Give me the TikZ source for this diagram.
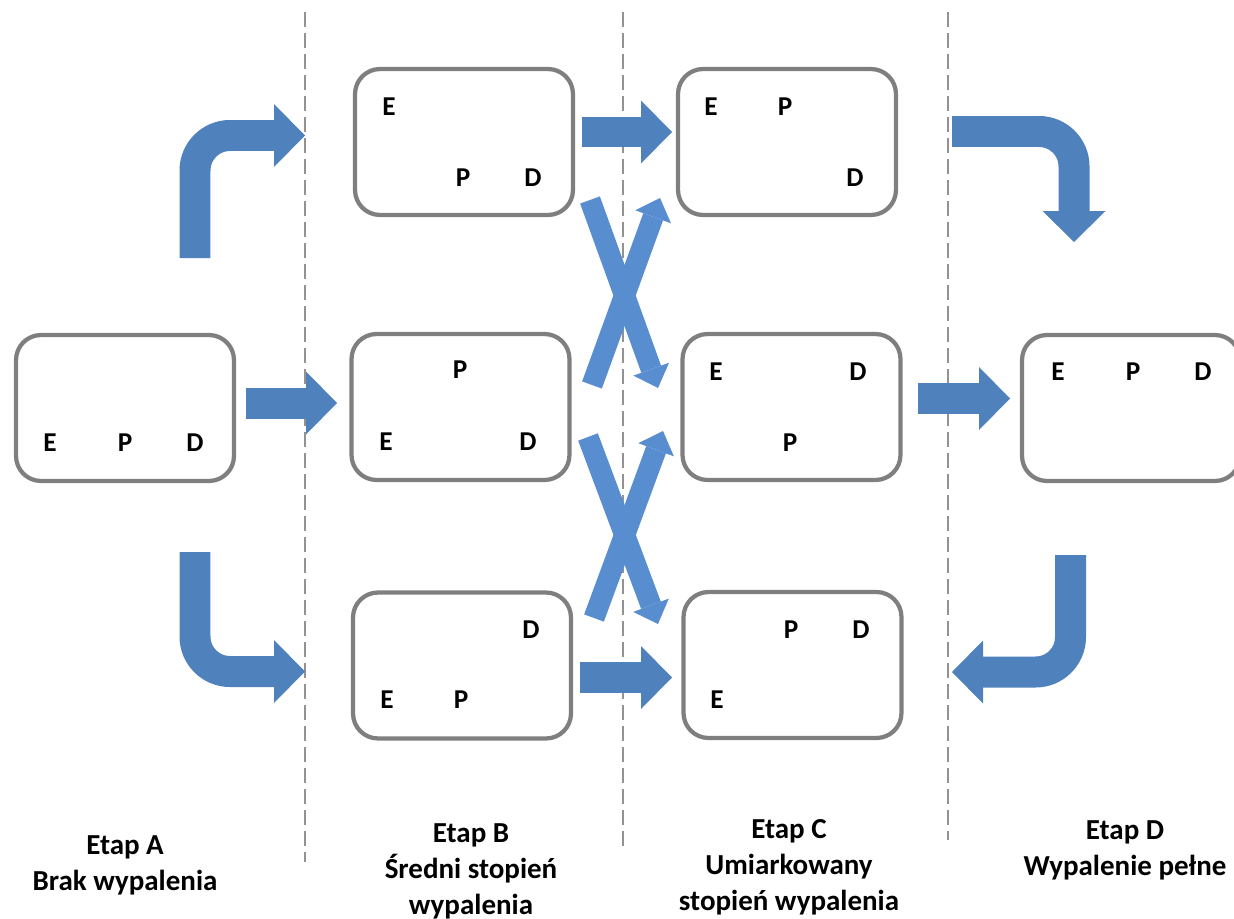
\documentclass[tikz,border=0pt]{standalone}
\usepackage{fontspec}
\setmainfont{Carlito}
\usetikzlibrary{arrows.meta}

\definecolor{niebieski}{RGB}{79,129,189}
\definecolor{jasnyniebieski}{RGB}{88,141,208}
\definecolor{szary}{RGB}{127,127,127}

\begin{document}
\begin{tikzpicture}[x=0.02cm, y=-0.02cm,
    pole/.style={draw=szary, line width=0.085cm, rounded corners=0.5cm,
        minimum width=4.36cm, minimum height=2.92cm},
    litera/.style={font=\fontsize{15.5}{18}\selectfont\bfseries, inner sep=0pt},
    etap/.style={font=\fontsize{16.5}{20.5}\selectfont\bfseries, align=center, inner sep=0pt},
    blok/.style={draw=niebieski, line width=0.62cm,
        -{Triangle[width=1.26cm, length=0.62cm, line width=0pt]}},
    krzyz/.style={draw=jasnyniebieski, line width=0.42cm,
        -{Triangle[width=0.76cm, length=0.4cm, line width=0pt]}},
    granica/.style={draw=szary!85, line width=0.04cm, dash pattern=on 0.3cm off 0.12cm}]

    \useasboundingbox (0,0) rectangle (1234,919);

    % Linie podziału etapów
    \draw[granica] (305,12) -- (305,862);
    \draw[granica] (623,12) -- (623,850);
    \draw[granica] (948,12) -- (948,840);

    % Pola
    \node[pole] (A)  at (125,408) {};
    \node[pole] (B1) at (464,142) {};
    \node[pole] (B2) at (460.5,407) {};
    \node[pole] (B3) at (462,665.5) {};
    \node[pole] (C1) at (787,142) {};
    \node[pole] (C2) at (791.5,407) {};
    \node[pole] (C3) at (792.5,665) {};
    \node[pole] (D)  at (1131,408) {};

    % Litery E, P, D w polach
    \foreach \n/\x/\y/\t in {A-E/50/443/E, A-P/125/443/P, A-D/195/443/D,
            B1-E/389/107/E, B1-P/463/178/P, B1-D/533/178/D,
            B2-P/460/370/P, B2-E/386/442/E, B2-D/528/442/D,
            B3-D/531/630/D, B3-E/387/700/E, B3-P/461/700/P,
            C1-E/711/107/E, C1-P/785/107/P, C1-D/855/178/D,
            C2-E/716/372/E, C2-D/858/372/D, C2-P/790/443/P,
            C3-P/791/630/P, C3-D/861/630/D, C3-E/717/700/E,
            D-E/1058/372/E, D-P/1133/372/P, D-D/1203/372/D}
        \node[litera] (\n) at (\x,\y) {\t};

    % Końce strzałek
    \coordinate (ab-s) at (246,403);    \coordinate (ab-k) at (337,403);
    \coordinate (bc1-s) at (582,132);   \coordinate (bc1-k) at (672,132);
    \coordinate (bc3-s) at (580,677.5); \coordinate (bc3-k) at (672,677.5);
    \coordinate (cd-s) at (918,398.5);  \coordinate (cd-k) at (1010,398.5);
    \coordinate (ag-s) at (195,258);    \coordinate (ag-k) at (305,135.5);
    \coordinate (ad-s) at (195,552);    \coordinate (ad-k) at (305,671.5);
    \coordinate (dg-s) at (952,131.5);  \coordinate (dg-k) at (1074,242);
    \coordinate (dd-s) at (1070.5,555); \coordinate (dd-k) at (952,672);

    % Strzałki proste
    \draw[blok] (ab-s) -- (ab-k);
    \draw[blok] (bc1-s) -- (bc1-k);
    \draw[blok] (bc3-s) -- (bc3-k);
    \draw[blok] (cd-s) -- (cd-k);

    % Strzałki zagięte
    \draw[blok, rounded corners=0.7cm] (ag-s) |- (ag-k);
    \draw[blok, rounded corners=0.7cm] (ad-s) |- (ad-k);
    \draw[blok, rounded corners=0.7cm] (dg-s) -| (dg-k);
    \draw[blok, rounded corners=0.7cm] (dd-s) |- (dd-k);

    % Strzałki krzyżowe
    \coordinate (x1-s) at (590,200);  \coordinate (x1-k) at (658,388);
    \coordinate (x2-s) at (592,385);  \coordinate (x2-k) at (660,198);
    \coordinate (x3-s) at (588,437);  \coordinate (x3-k) at (658,624);
    \coordinate (x4-s) at (594,618);  \coordinate (x4-k) at (663,431);
    \draw[krzyz] (x1-s) -- (x1-k);
    \draw[krzyz] (x2-s) -- (x2-k);
    \draw[krzyz] (x3-s) -- (x3-k);
    \draw[krzyz] (x4-s) -- (x4-k);

    % Opisy etapów
    \node[etap] (etapA) at (125,865) {Etap A\\Brak wypalenia};
    \node[etap] (etapB) at (471,871) {Etap B\\Średni stopień\\wypalenia};
    \node[etap] (etapC) at (789,867) {Etap C\\Umiarkowany\\stopień wypalenia};
    \node[etap] (etapD) at (1125,850) {Etap D\\Wypalenie pełne};

\end{tikzpicture}
\end{document}
